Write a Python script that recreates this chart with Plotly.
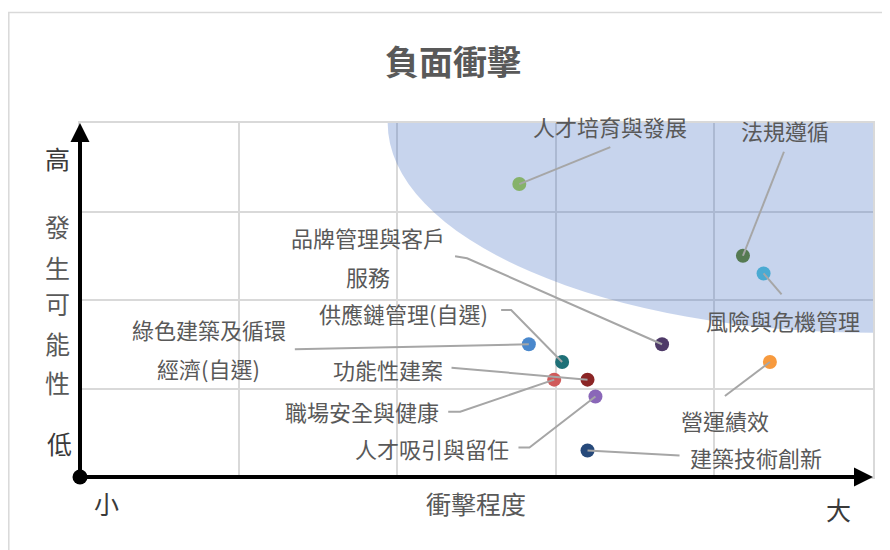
import plotly.graph_objects as go

# ---------------- data ----------------
topics = ["人才培育與發展", "法規遵循", "風險與危機管理", "品牌管理與客戶服務",
          "綠色建築及循環經濟(自選)", "供應鏈管理(自選)", "功能性建案",
          "職場安全與健康", "人才吸引與留任", "建築技術創新", "營運績效"]
impact = [2.77, 4.18, 4.31, 3.67, 2.83, 3.04, 3.20, 2.99, 3.25, 3.20, 4.35]
likelihood = [3.31, 2.50, 2.30, 1.50, 1.50, 1.30, 1.10, 1.10, 0.91, 0.30, 1.30]
dot_colors = ["#86b26a", "#557a52", "#4aaad2", "#4e3a68", "#4a88cc", "#1e7077",
              "#8b2525", "#d05a5a", "#8a67b8", "#26497a", "#f79a3e"]

# label layout (pixel offsets from each dot, y up): list of (text, dx, dy) lines
label_lines = [
    [("人才培育與發展", 91, 58)],
    [("法規遵循", 42, 126)],
    [("風險與危機管理", 19, -47)],
    [("品牌管理與客戶", -294, 107), ("服務", -294, 68)],
    [("綠色建築及循環", -320, 15), ("經濟(自選)", -320, -24)],
    [("供應鏈管理(自選)", -159, 49)],
    [("功能性建案", -200, 11)],
    [("職場安全與健康", -192, -31)],
    [("人才吸引與留任", -163, -52)],
    [("建築技術創新", 168, -7)],
    [("營運績效", -45, -58)],
]
# leader polylines (pixel offsets from each dot, y up), ending at the dot
leader_pts = [
    [(91, 37)],
    [(41, 104)],
    [(18, -21)],
    [(-207, 88), (-195, 86)],
    [(-234, -5)],
    [(-61, 52), (-51, 52)],
    [(-136, 12)],
    [(-106, -32), (-94, -32)],
    [(-77, -51), (-66, -51)],
    [(92, -5)],
    [(-45, -34)],
]

# ---------------- geometry ----------------
OFF = 8                      # page body margin of the html page
W, H = 890 - OFF, 550 - OFF
ML, MR, MT, MB = 80 - OFF, 17, 123 - OFF, 73
XMAX, YMAX = 5, 4
FONT = "Noto Sans CJK TC"
GRID = "#d9d9d9"
TXT = "#595959"

fig = go.Figure()

# data points
fig.add_trace(go.Scatter(
    x=impact, y=likelihood, mode="markers",
    marker=dict(size=14, color=dot_colors, line=dict(width=0)),
    text=topics, hoverinfo="text", showlegend=False, cliponaxis=False))

shapes = []
# high-risk zone (quarter ellipse around top-right corner)
ea, eb = 3.06, 2.37
shapes.append(dict(type="circle", xref="x", yref="y",
                   x0=XMAX - ea, x1=XMAX + ea, y0=YMAX - eb, y1=YMAX + eb,
                   fillcolor="rgba(68,114,196,0.30)", line=dict(width=0),
                   layer="between"))

# leader lines
for xv, yv, pts in zip(impact, likelihood, leader_pts):
    path = "M " + " L ".join(f"{dx},{dy}" for dx, dy in pts) + " L 0,0"
    shapes.append(dict(type="path", xref="x", yref="y",
                       xsizemode="pixel", ysizemode="pixel",
                       xanchor=xv, yanchor=yv, path=path,
                       line=dict(color="#a6a6a6", width=2), layer="above"))


# page-pixel -> paper helpers for decorations
def px2paper_x(px):
    return (px - OFF - ML) / (W - ML - MR)


def px2paper_y(py):
    return (H - MB - (py - OFF)) / (H - MT - MB)


# outer chart border
shapes.append(dict(type="rect", xref="paper", yref="paper",
                   x0=px2paper_x(8.8), x1=px2paper_x(900),
                   y0=px2paper_y(560), y1=px2paper_y(12.5),
                   line=dict(color=GRID, width=1.5), fillcolor="rgba(0,0,0,0)",
                   layer="below"))

# origin dot (paper-referenced so it is not clipped)
shapes.append(dict(type="circle", xref="paper", yref="paper",
                   xsizemode="pixel", ysizemode="pixel", xanchor=0, yanchor=0,
                   x0=-7.5, x1=7.5, y0=-7.5, y1=7.5,
                   fillcolor="black", line=dict(color="black", width=0),
                   layer="above"))

annotations = []
# point labels
for xv, yv, lines in zip(impact, likelihood, label_lines):
    for txt, dx, dy in lines:
        annotations.append(dict(x=xv, y=yv, xref="x", yref="y", text=txt,
                                showarrow=False, xshift=dx, yshift=dy,
                                xanchor="center", yanchor="middle",
                                font=dict(family=FONT, size=22, color=TXT)))

# axis arrows
for tx, ty in [(XMAX, 0), (0, YMAX)]:
    annotations.append(dict(x=tx, y=ty, ax=0, ay=0, xref="x", yref="y",
                            axref="x", ayref="y", text="", showarrow=True,
                            arrowhead=2, arrowsize=0.95, arrowwidth=4,
                            arrowcolor="black", standoff=0, startstandoff=0))

# axis words (page pixel centres)
axis_words = [
    ("高", 57, 158, "#3a3a3a"), ("發", 57, 226, TXT), ("生", 57, 267, TXT),
    ("可", 57, 303, TXT), ("能", 57, 343, TXT), ("性", 57, 382, TXT),
    ("低", 59, 443, "#3a3a3a"), ("小", 106, 503, "#3a3a3a"),
    ("衝擊程度", 476, 503, TXT), ("大", 838, 509, "#3a3a3a"),
]
for txt, px, py, col in axis_words:
    annotations.append(dict(x=px2paper_x(px), y=px2paper_y(py),
                            xref="paper", yref="paper", text=txt,
                            showarrow=False, xanchor="center", yanchor="middle",
                            font=dict(family=FONT, size=25, color=col)))

fig.update_layout(
    width=W, height=H,
    margin=dict(l=ML, r=MR, t=MT, b=MB, pad=0),
    paper_bgcolor="white", plot_bgcolor="white",
    title=dict(text="<b>負面衝擊</b>", x=(453 - OFF) / W, y=1 - (63 - OFF) / H,
               xanchor="center", yanchor="middle",
               font=dict(family=FONT, size=34, color=TXT)),
    xaxis=dict(range=[0, XMAX], dtick=1, tick0=0, showgrid=True,
               gridcolor=GRID, gridwidth=1.5, zeroline=False,
               showticklabels=False, ticks="", showline=True, mirror=True,
               linecolor=GRID, linewidth=1.5, fixedrange=True),
    yaxis=dict(range=[0, YMAX], dtick=1, tick0=0, showgrid=True,
               gridcolor=GRID, gridwidth=1.5, zeroline=False,
               showticklabels=False, ticks="", showline=True, mirror=True,
               linecolor=GRID, linewidth=1.5, fixedrange=True),
    shapes=shapes, annotations=annotations, showlegend=False,
)

fig.write_html("out.html")
